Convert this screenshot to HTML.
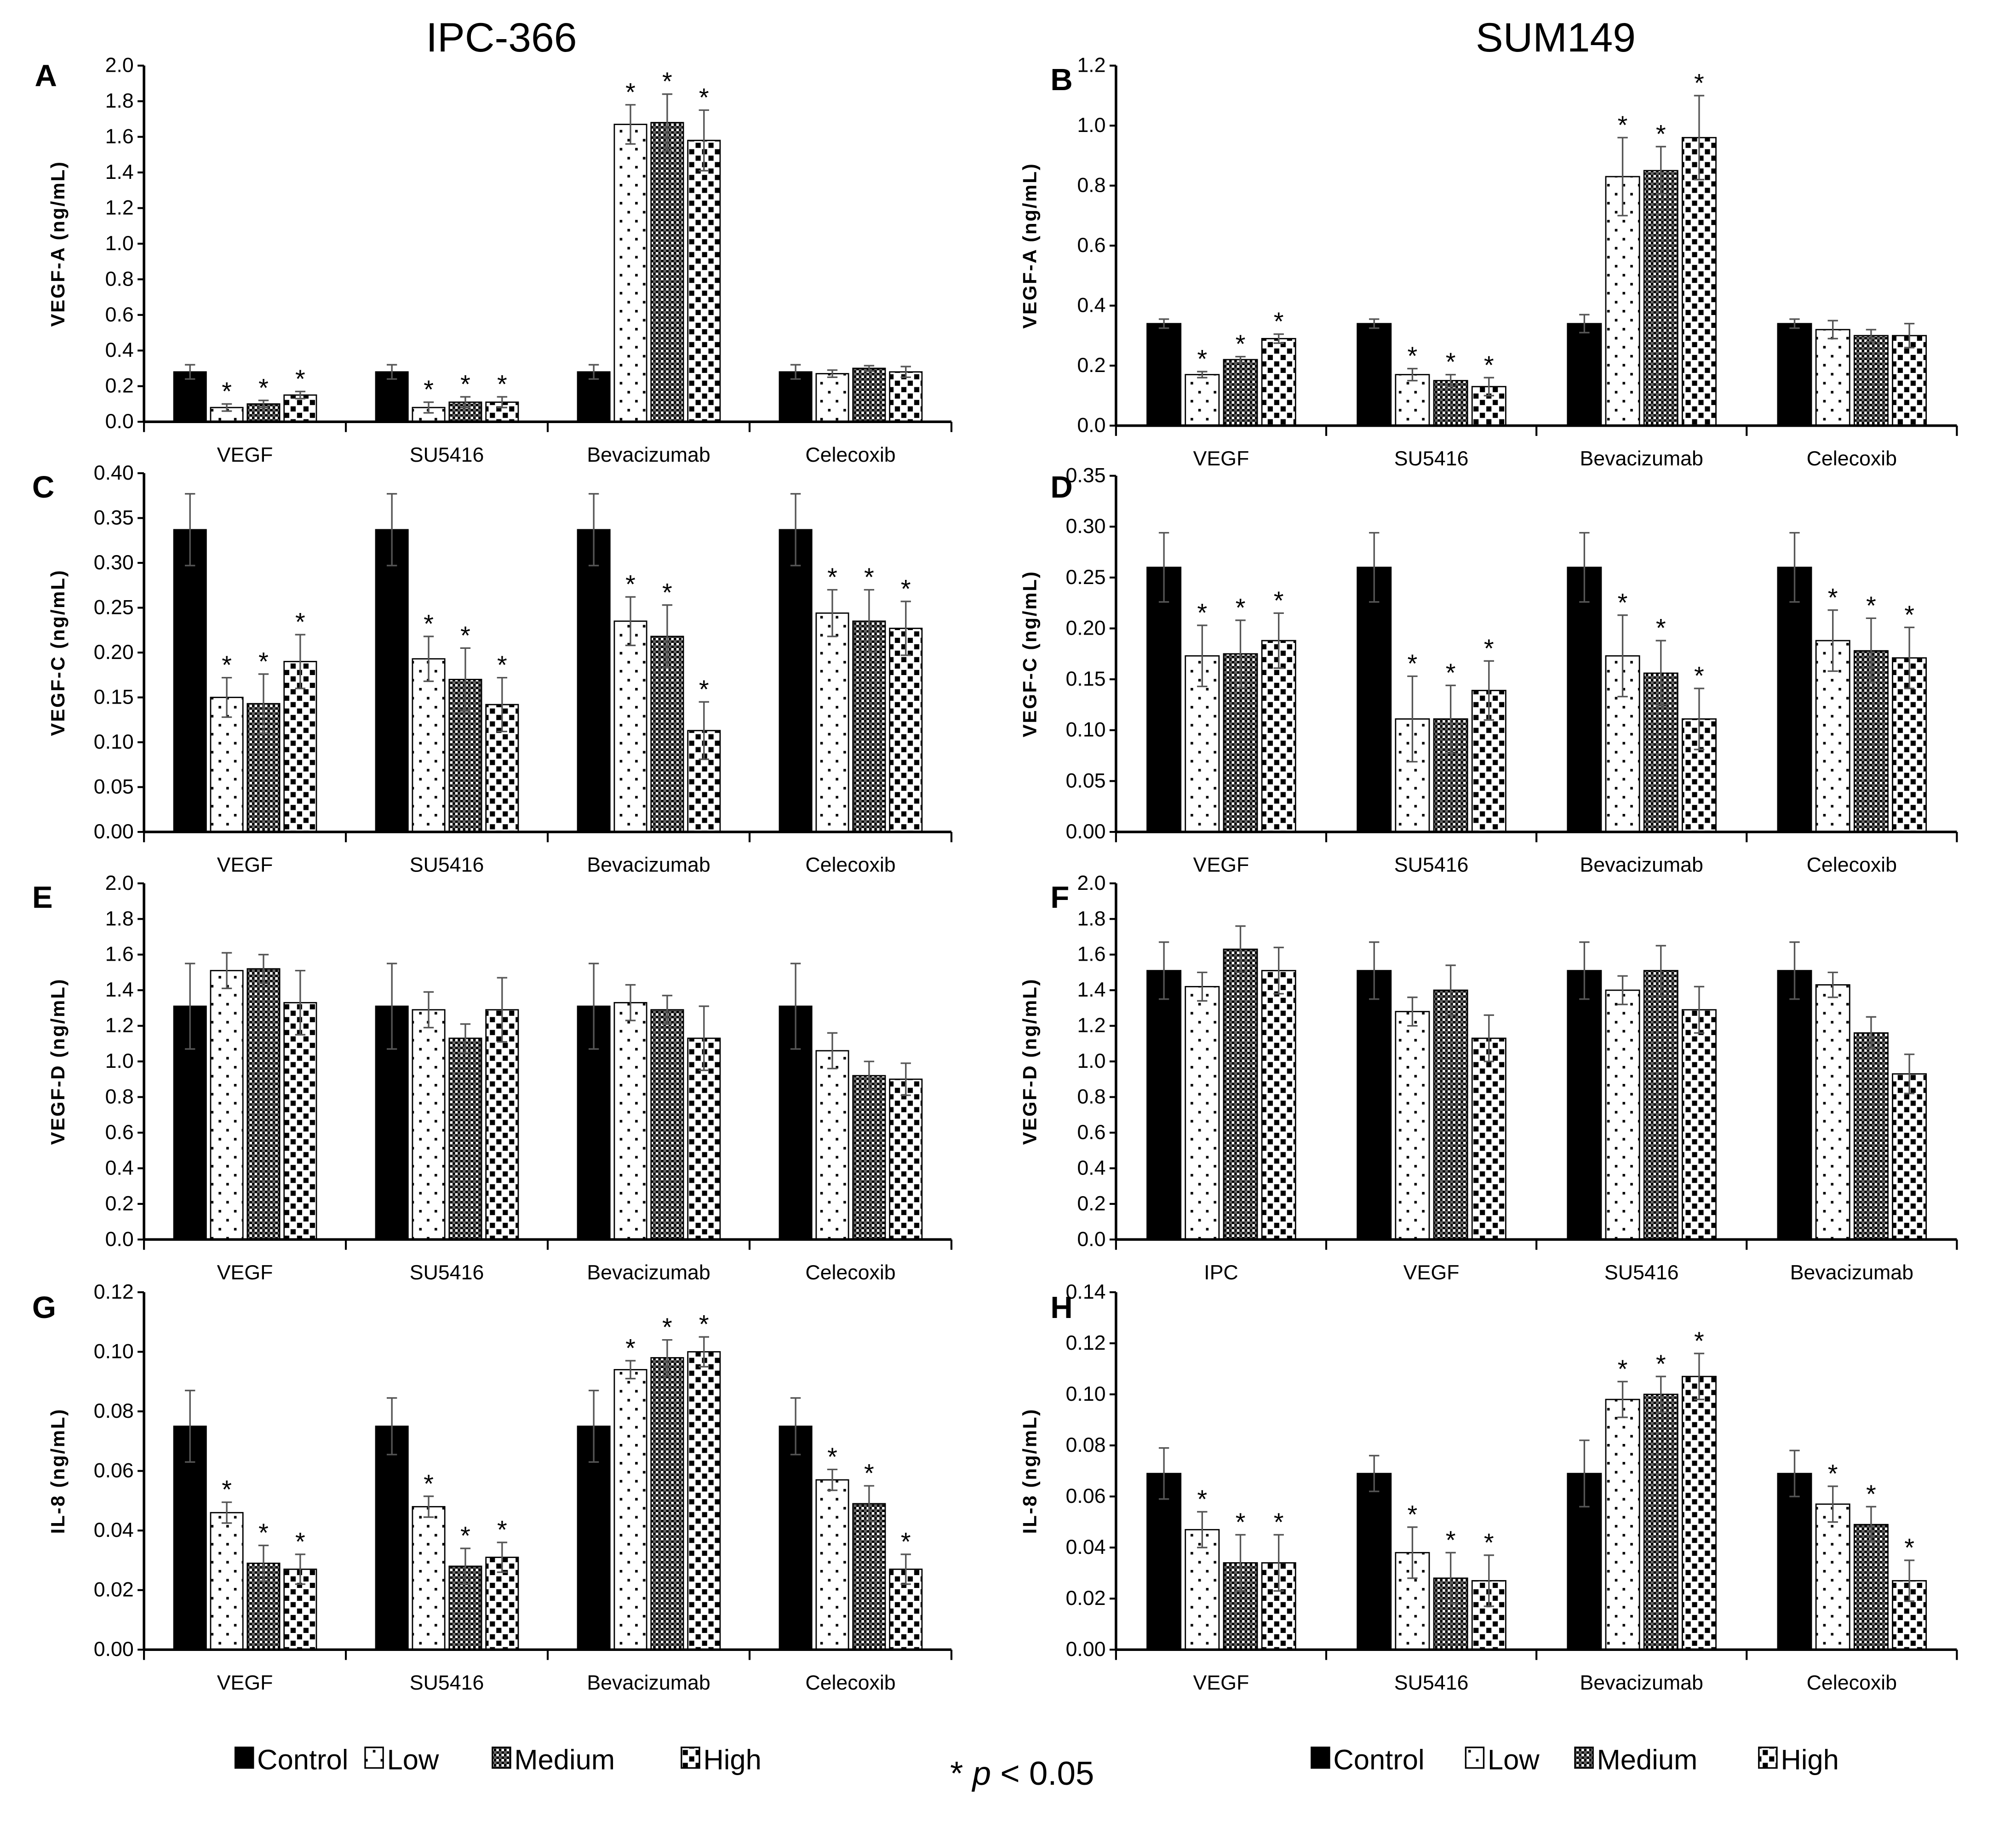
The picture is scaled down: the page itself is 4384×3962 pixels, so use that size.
<!DOCTYPE html>
<html><head><meta charset="utf-8">
<style>
html,body{margin:0;padding:0;background:#fff;}
svg{display:block;}
text{font-family:"Liberation Sans",sans-serif;}
</style></head>
<body>
<svg id="fig" width="4384" height="3962" viewBox="0 0 1568 1417" xmlns="http://www.w3.org/2000/svg">
<defs>
<pattern id="pLow" width="12" height="14" patternUnits="userSpaceOnUse">
<rect width="12" height="14" fill="#fff"/><rect x="2" y="3" width="2" height="2" fill="#000"/><rect x="8" y="10" width="2" height="2" fill="#000"/></pattern>
<pattern id="pMed" width="4" height="4" patternUnits="userSpaceOnUse">
<rect width="4" height="4" fill="#fff"/><rect width="2" height="2" fill="#000"/><rect x="2" y="2" width="2" height="2" fill="#000"/><rect x="0" y="2" width="2" height="2" fill="#666"/></pattern>
<pattern id="pHigh" width="10" height="10" patternUnits="userSpaceOnUse">
<rect width="10" height="10" fill="#fff"/><rect x="1" y="1" width="4" height="4" fill="#000"/><rect x="6" y="6" width="4" height="4" fill="#000"/></pattern>
</defs>
<text x="390" y="40" font-size="32" text-anchor="middle">IPC-366</text>
<text x="1210" y="40" font-size="32" text-anchor="middle">SUM149</text>
<text x="795" y="1388" font-size="26" text-anchor="middle">* <tspan font-style="italic">p</tspan> &lt; 0.05</text>
<g id="charts"></g>
</svg>
<script>
const catsStd = ["VEGF","SU5416","Bevacizumab","Celecoxib"];
const catsF = ["IPC","VEGF","SU5416","Bevacizumab"];
const seriesNames = ["Control","Low","Medium","High"];
const fills = ["#000","url(#pLow)","url(#pMed)","url(#pHigh)"];

const valsA = [[0.28,0.08,0.10,0.15],[0.28,0.08,0.11,0.11],[0.28,1.67,1.68,1.58],[0.28,0.27,0.30,0.28]];
const errsA = [[0.04,0.02,0.02,0.02],[0.04,0.03,0.03,0.03],[0.04,0.11,0.16,0.17],[0.04,0.02,0.015,0.03]];
const starsA = [[0,1,1,1],[0,1,1,1],[0,1,1,1],[0,0,0,0]];
const valsB = [[0.34,0.17,0.22,0.29],[0.34,0.17,0.15,0.13],[0.34,0.83,0.85,0.96],[0.34,0.32,0.30,0.30]];
const errsB = [[0.015,0.01,0.01,0.015],[0.015,0.02,0.02,0.03],[0.03,0.13,0.08,0.14],[0.015,0.03,0.02,0.04]];
const starsB = [[0,1,1,1],[0,1,1,1],[0,1,1,1],[0,0,0,0]];
const valsC = [[0.337,0.150,0.143,0.190],[0.337,0.193,0.170,0.142],[0.337,0.235,0.218,0.113],[0.337,0.244,0.235,0.227]];
const errsC = [[0.04,0.022,0.033,0.03],[0.04,0.025,0.035,0.03],[0.04,0.027,0.035,0.032],[0.04,0.026,0.035,0.03]];
const starsC = [[0,1,1,1],[0,1,1,1],[0,1,1,1],[0,1,1,1]];
const valsD = [[0.26,0.173,0.175,0.188],[0.26,0.111,0.111,0.139],[0.26,0.173,0.156,0.111],[0.26,0.188,0.178,0.171]];
const errsD = [[0.034,0.03,0.033,0.027],[0.034,0.042,0.033,0.029],[0.034,0.04,0.032,0.03],[0.034,0.03,0.032,0.03]];
const starsD = [[0,1,1,1],[0,1,1,1],[0,1,1,1],[0,1,1,1]];
const valsE = [[1.31,1.51,1.52,1.33],[1.31,1.29,1.13,1.29],[1.31,1.33,1.29,1.13],[1.31,1.06,0.92,0.90]];
const errsE = [[0.24,0.1,0.08,0.18],[0.24,0.1,0.08,0.18],[0.24,0.1,0.08,0.18],[0.24,0.1,0.08,0.09]];
const starsE = [[0,0,0,0],[0,0,0,0],[0,0,0,0],[0,0,0,0]];
const valsF = [[1.51,1.42,1.63,1.51],[1.51,1.28,1.40,1.13],[1.51,1.40,1.51,1.29],[1.51,1.43,1.16,0.93]];
const errsF = [[0.16,0.08,0.13,0.13],[0.16,0.08,0.14,0.13],[0.16,0.08,0.14,0.13],[0.16,0.07,0.09,0.11]];
const starsF = [[0,0,0,0],[0,0,0,0],[0,0,0,0],[0,0,0,0]];
const valsG = [[0.075,0.046,0.029,0.027],[0.075,0.048,0.028,0.031],[0.075,0.094,0.098,0.100],[0.075,0.057,0.049,0.027]];
const errsG = [[0.012,0.0035,0.006,0.005],[0.0095,0.0035,0.006,0.005],[0.012,0.003,0.006,0.005],[0.0095,0.0035,0.006,0.005]];
const starsG = [[0,1,1,1],[0,1,1,1],[0,1,1,1],[0,1,1,1]];
const valsH = [[0.069,0.047,0.034,0.034],[0.069,0.038,0.028,0.027],[0.069,0.098,0.100,0.107],[0.069,0.057,0.049,0.027]];
const errsH = [[0.01,0.007,0.011,0.011],[0.007,0.01,0.01,0.01],[0.013,0.007,0.007,0.009],[0.009,0.007,0.007,0.008]];
const starsH = [[0,1,1,1],[0,1,1,1],[0,1,1,1],[0,1,1,1]];

const ticksA = ["0.0","0.2","0.4","0.6","0.8","1.0","1.2","1.4","1.6","1.8","2.0"];
const ticksB = ["0.0","0.2","0.4","0.6","0.8","1.0","1.2"];
const ticksC = ["0.00","0.05","0.10","0.15","0.20","0.25","0.30","0.35","0.40"];
const ticksD = ["0.00","0.05","0.10","0.15","0.20","0.25","0.30","0.35"];
const ticksG = ["0.00","0.02","0.04","0.06","0.08","0.10","0.12"];
const ticksH = ["0.00","0.02","0.04","0.06","0.08","0.10","0.12","0.14"];

const NS="http://www.w3.org/2000/svg";
const root=document.getElementById('charts');
function mk(tag,attrs,parent,txt){const e=document.createElementNS(NS,tag);for(const k in attrs)e.setAttribute(k,attrs[k]);if(txt!==undefined)e.textContent=txt;(parent||root).appendChild(e);return e;}

const panels=[
 {id:"a",letter:"A",x0:112,x1:740,top:51,bot:328,ticks:ticksA,cats:catsStd,vals:valsA,errs:errsA,stars:starsA,ylab:"VEGF-A (ng/mL)",lx:27,ly:67},
 {id:"b",letter:"B",x0:868,x1:1522,top:51,bot:331,ticks:ticksB,cats:catsStd,vals:valsB,errs:errsB,stars:starsB,ylab:"VEGF-A (ng/mL)",lx:817,ly:70},
 {id:"c",letter:"C",x0:112,x1:740,top:368,bot:647,ticks:ticksC,cats:catsStd,vals:valsC,errs:errsC,stars:starsC,ylab:"VEGF-C (ng/mL)",lx:25,ly:387},
 {id:"d",letter:"D",x0:868,x1:1522,top:370,bot:647,ticks:ticksD,cats:catsStd,vals:valsD,errs:errsD,stars:starsD,ylab:"VEGF-C (ng/mL)",lx:817,ly:387},
 {id:"e",letter:"E",x0:112,x1:740,top:687,bot:964,ticks:ticksA,cats:catsStd,vals:valsE,errs:errsE,stars:starsE,ylab:"VEGF-D (ng/mL)",lx:25,ly:706},
 {id:"f",letter:"F",x0:868,x1:1522,top:687,bot:964,ticks:ticksA,cats:catsF,vals:valsF,errs:errsF,stars:starsF,ylab:"VEGF-D (ng/mL)",lx:817,ly:706},
 {id:"g",letter:"G",x0:112,x1:740,top:1005,bot:1283,ticks:ticksG,cats:catsStd,vals:valsG,errs:errsG,stars:starsG,ylab:"IL-8 (ng/mL)",lx:25,ly:1025},
 {id:"h",letter:"H",x0:868,x1:1522,top:1005,bot:1283,ticks:ticksH,cats:catsStd,vals:valsH,errs:errsH,stars:starsH,ylab:"IL-8 (ng/mL)",lx:817,ly:1025}
];

panels.forEach(p=>{
  const g=mk('g',{});
  
  
  const ymax=parseFloat(p.ticks[p.ticks.length-1]);
  const y=v=>p.bot-(v/ymax)*(p.bot-p.top);
  const gw=(p.x1-p.x0)/p.cats.length;
  const bw=gw*0.16, step=gw*0.182, off=gw*0.148;
  const L=mk('text',{x:p.lx,y:p.ly,'font-size':24,'font-weight':'bold'},g,p.letter);
  
  
  const yl=mk('text',{x:0,y:0,'font-size':15,'font-weight':'bold','text-anchor':'middle','letter-spacing':'1',transform:`translate(${p.x0-62},${(p.top+p.bot)/2}) rotate(-90)`},g,p.ylab);
  
  
  p.ticks.forEach(t=>{
    const v=parseFloat(t), yy=y(v);
    mk('line',{x1:p.x0-5,x2:p.x0,y1:yy,y2:yy,stroke:'#000','stroke-width':1.5},g);
    const tl=mk('text',{x:p.x0-8,y:yy+5,'font-size':16,'text-anchor':'end'},g,t);
    
    
  });
  p.cats.forEach((c,ci)=>{
    const gx=p.x0+ci*gw;
    const cl=mk('text',{x:gx+gw/2,y:p.bot+31,'font-size':16,'text-anchor':'middle'},g,c);
    
    
    p.vals[ci].forEach((v,si)=>{
      const bx=gx+off+si*step, by=y(v);
      const r=mk('rect',{x:bx,y:by,width:bw,height:p.bot-by,fill:fills[si],stroke:'#000','stroke-width':1},g);
      
      
      const e=p.errs[ci][si], cx=bx+bw/2;
      const eb=mk('path',{d:`M${cx},${y(v+e)}V${y(Math.max(0,v-e))}M${cx-4},${y(v+e)}H${cx+4}M${cx-4},${y(Math.max(0,v-e))}H${cx+4}`,stroke:'#555','stroke-width':1.2,fill:'none'},g);
      
      
      if(p.stars[ci][si]){
        const s=mk('text',{x:cx,y:y(v+e)-3,'font-size':20,'text-anchor':'middle'},g,'*');
        
        
      }
    });
  });
  for(let i=0;i<=p.cats.length;i++){const xx=p.x0+i*gw;mk('line',{x1:xx,x2:xx,y1:p.bot,y2:p.bot+8,stroke:'#000','stroke-width':1.5},g);}
  mk('line',{x1:p.x0,x2:p.x0,y1:p.top,y2:p.bot,stroke:'#000','stroke-width':2},g);
  mk('line',{x1:p.x0,x2:p.x1,y1:p.bot,y2:p.bot,stroke:'#000','stroke-width':2},g);
});

const legendX=[[183,284,383,530],[1020,1140,1225,1368]];
legendX.forEach((xs,li)=>{
  const lg=mk('g',{});
  
  
  xs.forEach((x,si)=>{
    const e=mk('g',{},lg);
    
    
    mk('rect',{x:x,y:1359,width:14,height:16,fill:fills[si],stroke:'#000','stroke-width':1.2},e);
    mk('text',{x:x+17,y:1376,'font-size':22},e,seriesNames[si]);
  });
});
</script>
</body></html>
